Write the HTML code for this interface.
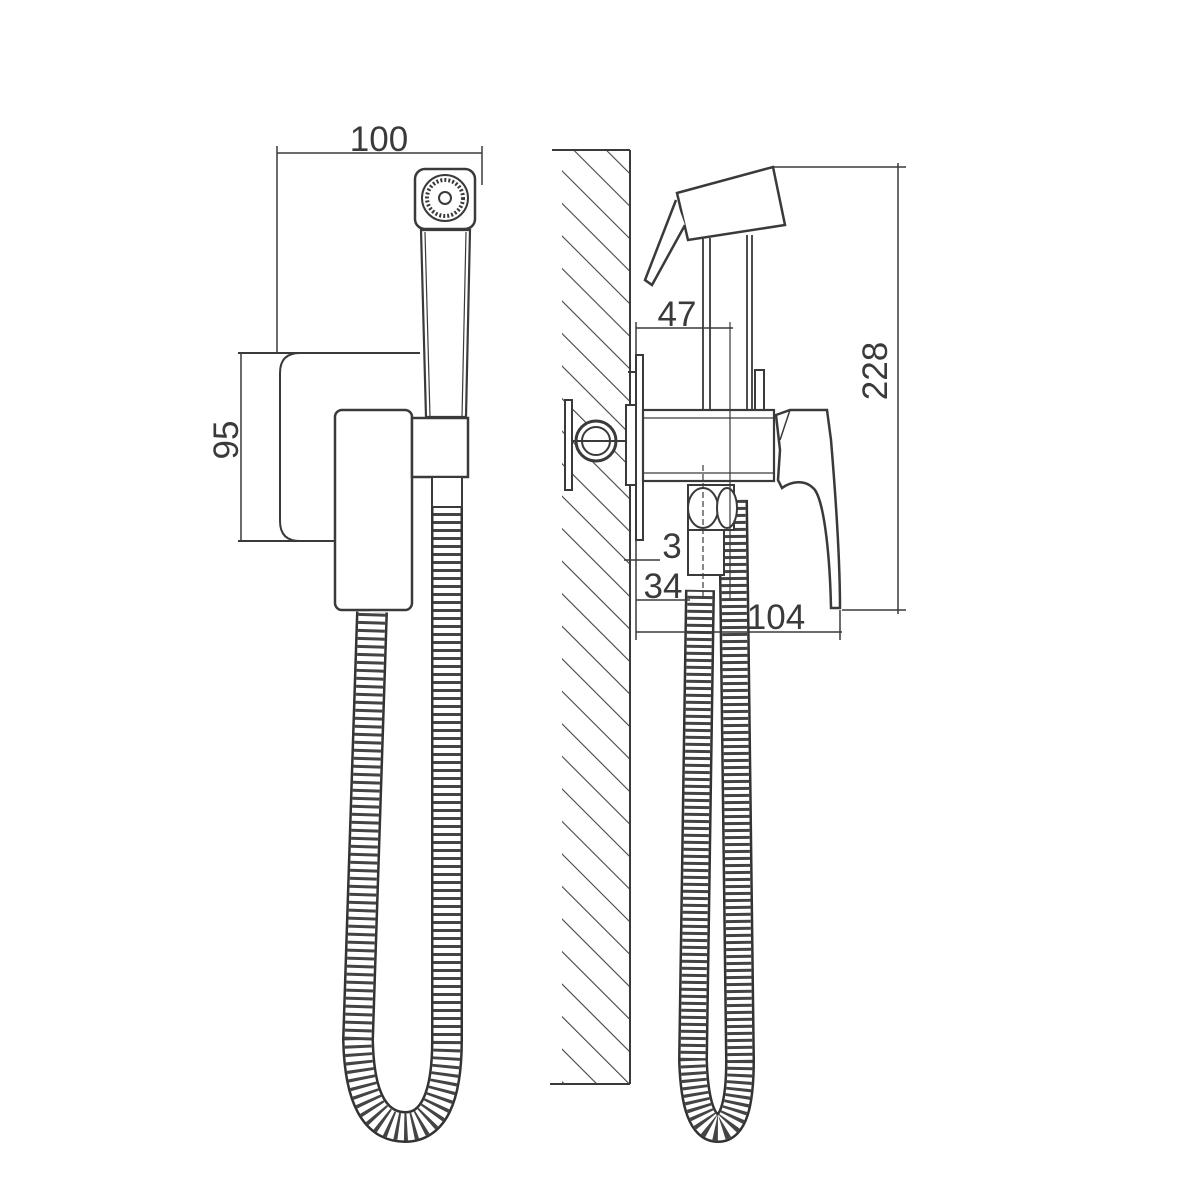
<!DOCTYPE html>
<html><head><meta charset="utf-8"><style>html,body{margin:0;padding:0;background:#fff}svg{display:block}</style></head>
<body>
<svg width="1200" height="1200" viewBox="0 0 1200 1200" xmlns="http://www.w3.org/2000/svg" font-family="Liberation Sans, sans-serif">
<defs>
<pattern id="h" patternUnits="userSpaceOnUse" width="23" height="23" patternTransform="rotate(-45)">
<line x1="0" y1="0" x2="0" y2="23" stroke="#444" stroke-width="2.2"/>
</pattern>
</defs>
<g fill="none" stroke="#3a3a3a" stroke-width="2">
<!-- wall -->
<rect x="562" y="150" width="68" height="934" fill="url(#h)" stroke="none"/>
<line x1="552" y1="150" x2="630" y2="150"/>
<line x1="630" y1="150" x2="630" y2="1084"/>
<line x1="550" y1="1084" x2="630" y2="1084"/>

<!-- LEFT VIEW hose -->
<g>
<path d="M447 505 L447 1040 Q447 1127 405 1127 Q360 1127 358 1040 L372 612" stroke="#333" stroke-width="32"/>
<path d="M447 505 L447 1040 Q447 1127 405 1127 Q360 1127 358 1040 L372 612" stroke="#fff" stroke-width="27"/>
<path d="M447 505 L447 1040 Q447 1127 405 1127 Q360 1127 358 1040 L372 612" stroke="#444" stroke-width="27" stroke-dasharray="3 5"/>
</g>
<!-- plate -->
<path d="M238 353 L420 353 M300 353 Q280 353 280 373 L280 521 Q280 541 300 541 M238 541 L335 541"/>
<!-- main box -->
<rect x="335" y="410" width="77" height="200" rx="7" fill="#fff" stroke-width="2.5"/>
<!-- holder -->
<rect x="412" y="418" width="56" height="59" fill="#fff" stroke-width="2.5"/>
<rect x="432" y="477" width="30" height="30" fill="#fff"/>
<!-- handle -->
<path d="M421 230 L470 230 L466 417 L426 417 Z" fill="#fff" stroke-width="2.2"/>
<path d="M425 232 L430 417 M466 232 L462 417" stroke-width="1.2"/>
<!-- head -->
<rect x="415" y="169" width="60" height="60" rx="10" fill="#fff" stroke-width="2.5"/>
<circle cx="445" cy="198" r="23"/>
<circle cx="445" cy="198" r="18" stroke-dasharray="2 2" stroke-width="4"/>
<circle cx="445" cy="198" r="6" stroke-width="2"/>
<!-- dims left -->
<line x1="277" y1="153" x2="482" y2="153" stroke-width="1.5"/>
<line x1="277" y1="146" x2="277" y2="353" stroke-width="1.5"/>
<line x1="482" y1="146" x2="482" y2="185" stroke-width="1.5"/>
<line x1="241" y1="353" x2="241" y2="541" stroke-width="1.5"/>

<!-- RIGHT VIEW hose -->
<path d="M733 500 L740 1060 Q740 1128 718 1128 Q695 1128 693 1060 L700 590" stroke="#333" stroke-width="30"/>
<path d="M733 500 L740 1060 Q740 1128 718 1128 Q695 1128 693 1060 L700 590" stroke="#fff" stroke-width="25"/>
<path d="M733 500 L740 1060 Q740 1128 718 1128 Q695 1128 693 1060 L700 590" stroke="#444" stroke-width="25" stroke-dasharray="3 4"/>
<!-- flange -->
<rect x="636" y="355" width="7" height="185" fill="#fff"/>
<line x1="628" y1="372" x2="636" y2="372"/>
<rect x="626" y="405" width="10" height="80" fill="#fff"/>
<!-- wall bracket -->
<rect x="565" y="400" width="7" height="90" fill="#fff"/>
<circle cx="596" cy="441" r="20" fill="#fff" stroke-width="3"/>
<circle cx="596" cy="441" r="14"/>
<line x1="572" y1="441" x2="626" y2="441"/>
<!-- body -->
<rect x="643" y="410" width="131" height="71" fill="#fff" stroke-width="2.2"/>
<line x1="643" y1="418" x2="774" y2="418" stroke-width="1.2"/>
<line x1="643" y1="473" x2="774" y2="473" stroke-width="1.2"/>
<!-- nut -->
<rect x="688" y="485" width="46" height="45" fill="#fff"/>
<ellipse cx="703" cy="508" rx="15" ry="20" fill="#fff"/>
<ellipse cx="727" cy="508" rx="10" ry="20" fill="#fff"/>
<rect x="688" y="530" width="36" height="45" fill="#fff"/>
<line x1="703" y1="465" x2="703" y2="600" stroke-dasharray="6 3" stroke-width="1.2"/>
<!-- stems -->
<path d="M703 238 L703 410 M710 238 L710 410 M747 235 L747 410 M752 235 L752 410" stroke-width="1.8"/>
<rect x="755" y="370" width="9" height="40"/>
<!-- head -->
<path d="M677 193 L773 167 L785 225 L688 240 Z" fill="#fff" stroke-width="2.5"/>
<path d="M676 200 L645 280 L652 285 L685 225" fill="#fff" stroke-width="2.5"/>
<!-- lever & spout -->
<path d="M776 415 L790 410 L827 410 L831 440 C836 500 840 560 840 608 L831 608 C830 560 825 505 815 490 C805 478 790 482 782 488 L778 480 L780 450 Z" fill="#fff" stroke-width="2.5"/>
<path d="M790 410 L780 440" stroke-width="1.5"/>
<!-- centerline -->
<line x1="730" y1="322" x2="730" y2="600" stroke-width="1.2"/>
<!-- dims right -->
<line x1="773" y1="167" x2="906" y2="167" stroke-width="1.5"/>
<line x1="842" y1="610" x2="906" y2="610" stroke-width="1.5"/>
<line x1="898" y1="163" x2="898" y2="614" stroke-width="1.5"/>
<line x1="636" y1="328" x2="733" y2="328" stroke-width="1.5"/>
<line x1="636" y1="322" x2="636" y2="360" stroke-width="1.5"/>
<line x1="624" y1="560" x2="660" y2="560" stroke-width="1.5"/>
<line x1="636" y1="600" x2="690" y2="600" stroke-width="1.5"/>
<line x1="636" y1="632" x2="842" y2="632" stroke-width="1.5"/>
<line x1="636" y1="540" x2="636" y2="640" stroke-width="1.5"/>
<line x1="840" y1="610" x2="840" y2="640" stroke-width="1.5"/>
</g>
<g fill="#3a3a3a" font-size="35">
<text x="379" y="151" text-anchor="middle">100</text>
<text transform="translate(238,440) rotate(-90)" text-anchor="middle">95</text>
<text x="677" y="326" text-anchor="middle">47</text>
<text transform="translate(887,371) rotate(-90)" text-anchor="middle">228</text>
<text x="672" y="558" text-anchor="middle">3</text>
<text x="663" y="598" text-anchor="middle">34</text>
<text x="776" y="629" text-anchor="middle">104</text>
</g>
</svg>
</body></html>
